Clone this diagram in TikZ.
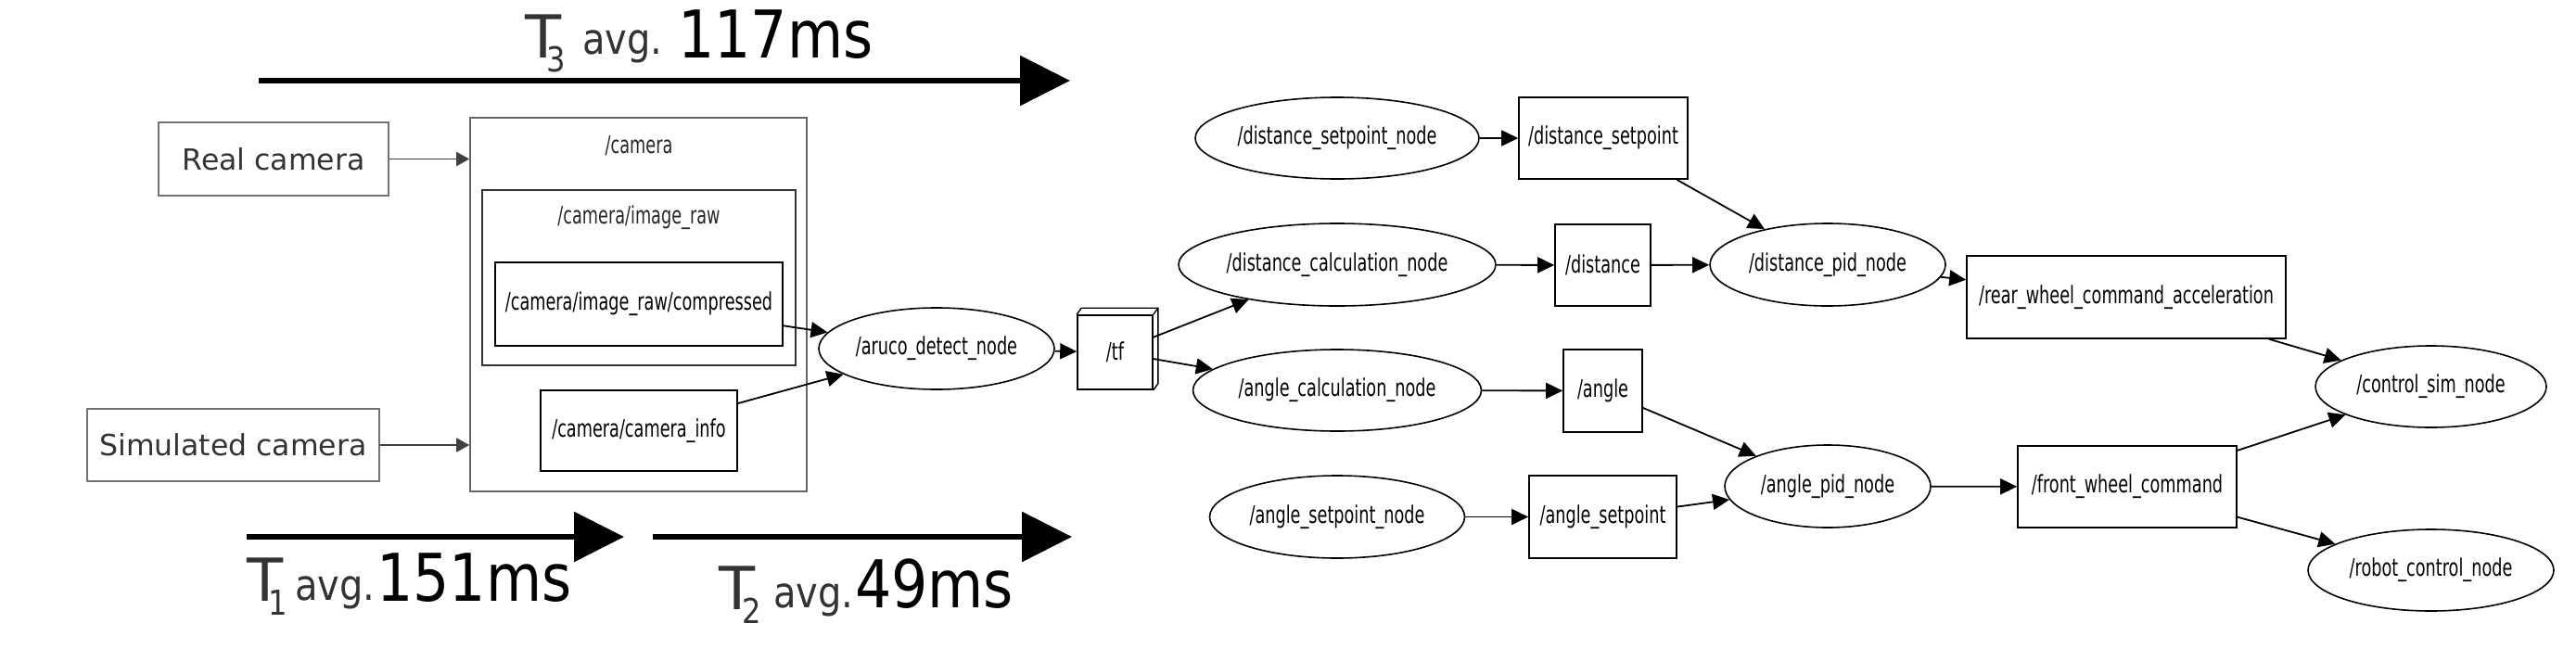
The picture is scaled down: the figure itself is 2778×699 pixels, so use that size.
\documentclass[tikz,border=0pt]{standalone}
\usepackage{fontspec}
\setmainfont{DejaVu Sans}
\newfontfamily\gfont[FakeStretch=0.68]{DejaVu Sans}
\newfontfamily\tfont[FakeStretch=0.87]{DejaVu Sans}
\usetikzlibrary{shapes.geometric,arrows.meta,calc}
\begin{document}
\begin{tikzpicture}[x=1pt,y=-1pt,
  gtext/.style={font=\gfont\fontsize{26}{26}\selectfont, text=black},
  topic/.style={draw=black, line width=1.6pt, rectangle, inner sep=0pt, gtext},
  rosnode/.style={draw=black, line width=1.6pt, ellipse, inner sep=0pt, gtext},
  cluster/.style={draw=#1, line width=1.6pt, rectangle, inner sep=0pt},
  cltext/.style={font=\gfont\fontsize{26}{26}\selectfont, text=black!85},
  edge/.style={line width=1.8pt, -{Triangle[length=18pt,width=17pt]}},
  srcbox/.style={draw=black!55, line width=1.4pt, rectangle, inner sep=0pt,
    font=\fontsize{31.5}{31.5}\selectfont, text=black!80},
  srcarrow/.style={draw=black!75, line width=1.8pt, -{Triangle[length=14pt,width=15pt]}},
  bigarrow/.style={line width=6pt, -{Triangle[length=54pt,width=53pt]}},
  tbig/.style={anchor=base west, inner sep=0pt, text=black!80, font=\fontsize{64}{64}\selectfont},
  tsub/.style={anchor=base west, inner sep=0pt, text=black!80, font=\tfont\fontsize{37}{37}\selectfont},
  tavg/.style={anchor=base west, inner sep=0pt, text=black!80, font=\tfont\fontsize{46}{46}\selectfont},
  tval/.style={anchor=base west, inner sep=0pt, text=black, font=\tfont\fontsize{71}{71}\selectfont},
]
\useasboundingbox (0,0) rectangle (2778,699);

% timing labels and arrows
\coordinate (a3s) at (279,87);  \coordinate (a3e) at (1154,87);
\coordinate (a1s) at (266,579); \coordinate (a1e) at (673,579);
\coordinate (a2s) at (704,579); \coordinate (a2e) at (1156,579);
\draw[bigarrow] (a3s) -- (a3e);
\draw[bigarrow] (a1s) -- (a1e);
\draw[bigarrow] (a2s) -- (a2e);

\node[tbig] (t3T) at (566,62) {T};
\node[tsub] (t3s) at (589,77) {3};
\node[tavg] (t3a) at (628,58) {avg.};
\node[tval] (t3v) at (731,62) {117ms};

\node[tbig] (t1T) at (266,648) {T};
\node[tsub] (t1s) at (289,663) {1};
\node[tavg] (t1a) at (318,647) {avg.};
\node[tval] (t1v) at (406,648) {151ms};

\node[tbig] (t2T) at (775,657) {T};
\node[tsub] (t2s) at (800,672) {2};
\node[tavg] (t2a) at (834,655) {avg.};
\node[tval] (t2v) at (922,655) {49ms};

% sources
\node[srcbox, minimum width=248, minimum height=79] (real) at (295,171.5) {Real camera};
\node[srcbox, minimum width=315, minimum height=78] (sim) at (251.5,480) {Simulated camera};

% camera cluster
\node[cluster=black!60, minimum width=363, minimum height=403] (cam) at (688.5,328.5) {};
\node[cltext] (camlbl) at (689,157) {/camera};
\node[cluster=black!80, minimum width=338, minimum height=189] (raw) at (689,299.5) {};
\node[cltext] (rawlbl) at (689,235) {/camera/image\_raw};
\node[topic, minimum width=310, minimum height=90] (comp) at (689,328) {/camera/image\_raw/compressed};
\node[topic, minimum width=212, minimum height=87] (info) at (689,464.5) {/camera/camera\_info};

\draw[srcarrow] (real) -- (real -| cam.west);
\draw[srcarrow] (sim) -- (sim -| cam.west);

% graph
\node[rosnode, minimum width=254, minimum height=88] (aruco) at (1010,376) {/aruco\_detect\_node};
\node[topic, minimum width=81, minimum height=80] (tf) at (1202.5,380) {/tf};
\draw[line width=1.4pt] (tf.north west) -- ++(5,-7) -- ($(tf.north east)+(5,-7)$) -- ($(tf.south east)+(5,-7)$) -- (tf.south east);
\draw[line width=1.4pt] (tf.north east) -- ++(5,-7);

\node[rosnode, minimum width=306, minimum height=88] (dsn) at (1442,149) {/distance\_setpoint\_node};
\node[topic, minimum width=182, minimum height=88] (dsp) at (1729,149) {/distance\_setpoint};
\node[rosnode, minimum width=342, minimum height=89] (dcn) at (1442,285.5) {/distance\_calculation\_node};
\node[topic, minimum width=103, minimum height=88] (dist) at (1728.5,286) {/distance};
\node[rosnode, minimum width=254, minimum height=89] (dpid) at (1971,285.5) {/distance\_pid\_node};
\node[topic, minimum width=344, minimum height=89] (rear) at (2293,320.5) {/rear\_wheel\_command\_acceleration};
\node[rosnode, minimum width=311, minimum height=88] (acn) at (1442,421) {/angle\_calculation\_node};
\node[topic, minimum width=85, minimum height=89] (angle) at (1728.5,421.5) {/angle};
\node[rosnode, minimum width=275, minimum height=89] (asn) at (1442,557.5) {/angle\_setpoint\_node};
\node[topic, minimum width=159, minimum height=89] (asp) at (1728.5,557.5) {/angle\_setpoint};
\node[rosnode, minimum width=222, minimum height=89] (apid) at (1971,524.5) {/angle\_pid\_node};
\node[topic, minimum width=236, minimum height=88] (front) at (2294,525) {/front\_wheel\_command};
\node[rosnode, minimum width=249, minimum height=88] (csim) at (2621.5,417) {/control\_sim\_node};
\node[rosnode, minimum width=265, minimum height=88] (robot) at (2621.5,615) {/robot\_control\_node};

\draw[edge] (comp) -- (aruco);
\draw[edge] (info) -- (aruco);
\draw[edge] (aruco) -- (tf);
\draw[edge] (tf) -- (dcn);
\draw[edge] (tf) -- (acn);
\draw[edge] (dsn) -- (dsp);
\draw[edge] (dsp) -- (dpid);
\draw[edge] (dcn) -- (dist);
\draw[edge] (dist) -- (dpid);
\draw[edge] (dpid) -- (rear);
\draw[edge] (rear) -- (csim);
\draw[edge] (acn) -- (angle);
\draw[edge] (angle) -- (apid);
\draw[edge] (asn) -- (asp);
\draw[edge] (asp) -- (apid);
\draw[edge] (apid) -- (front);
\draw[edge] (front) -- (csim);
\draw[edge] (front) -- (robot);
\end{tikzpicture}
\end{document}
